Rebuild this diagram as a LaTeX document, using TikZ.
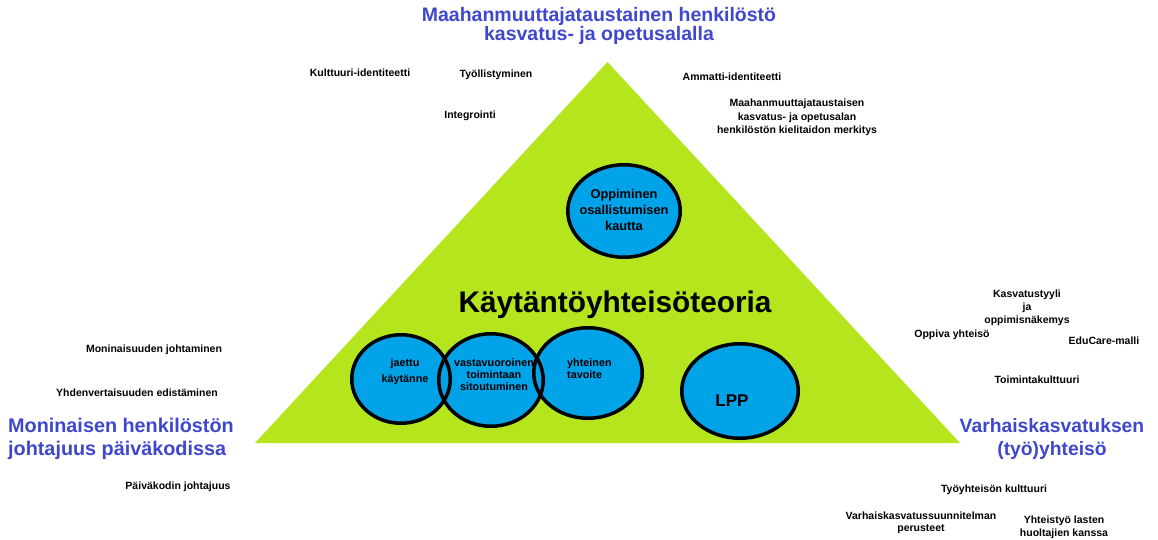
\documentclass[tikz,border=0pt]{standalone}
\usepackage{fontspec}
\setmainfont{Liberation Sans}
\usetikzlibrary{shapes.geometric}
\definecolor{leafgreen}{RGB}{181,230,29}
\definecolor{poolblue}{RGB}{0,162,232}
\definecolor{inkblue}{RGB}{63,72,204}

\begin{document}
\begin{tikzpicture}[x=1pt,y=-1pt,
  note/.style={font=\bfseries\fontsize{10.5}{13.5}\selectfont, align=center, inner sep=0pt, text=black},
  heading/.style={font=\bfseries\fontsize{19.5}{19}\selectfont, align=center, inner sep=0pt, text=inkblue},
  disc/.style={ellipse, fill=poolblue, inner sep=0pt, outer sep=0pt},
  ring/.style={ellipse, draw=black, line width=3.5pt, inner sep=0pt, outer sep=0pt},
  inner/.style={font=\bfseries\fontsize{10.8}{12}\selectfont, align=center, inner sep=0pt, text=black}]

% canvas
\useasboundingbox (0,0) rectangle (1158,539);
\fill[white] (0,0) rectangle (1158,539);

% the pyramid
\coordinate (apex) at (607.5,62);
\coordinate (baseL) at (255,443);
\coordinate (baseR) at (960,443);
\fill[leafgreen] (apex) -- (baseL) -- (baseR) -- cycle;

% blue discs first, outlines afterwards so every rim stays visible
\foreach \n/\x/\y/\w/\h in {oppi/624/211/112.5/92.5, jaettu/401/379/98.5/88.5,
    vasta/491/380/104.5/92.5, yhteinen/588/373/108.5/90.5, lpp/740/391/116.5/94.5}
  \node[disc, minimum width=\w pt, minimum height=\h pt] (\n) at (\x,\y) {};
\foreach \n/\w/\h in {oppi/112.5/92.5, jaettu/98.5/88.5, vasta/104.5/92.5,
    yhteinen/108.5/90.5, lpp/116.5/94.5}
  \node[ring, minimum width=\w pt, minimum height=\h pt] (\n-rim) at (\n) {};

% texts inside the pyramid
\node[inner, font=\bfseries\fontsize{12.8}{16.3}\selectfont] (oppiT) at (624,210)
  {Oppiminen\\osallistumisen\\kautta};
\node[inner sep=0pt, anchor=base, font=\bfseries\fontsize{29.8}{30}\selectfont] (theory) at (615,312)
  {Käytäntöyhteisöteoria};
\node[inner, font=\bfseries\fontsize{10.8}{16}\selectfont] (jaettuT) at (405,372) {jaettu\\käytänne};
\node[inner, font=\bfseries\fontsize{10.8}{11.7}\selectfont] (vastaT) at (494,374.5)
  {vastavuoroinen\\toimintaan\\sitoutuminen};
\node[inner, align=left, anchor=west] (yhteinenT) at (567,369) {yhteinen\\tavoite};
\node[inner sep=0pt, font=\bfseries\fontsize{17}{17}\selectfont] (lppT) at (732,401) {LPP};

% corner headings
\node[heading] (topHead) at (599,26) {Maahanmuuttajataustainen henkilöstö\\kasvatus- ja opetusalalla};
\node[heading, align=left, anchor=west, font=\bfseries\fontsize{19.8}{23}\selectfont] (leftHead) at (8,438.5)
  {Moninaisen henkilöstön\\johtajuus päiväkodissa};
\node[heading, font=\bfseries\fontsize{19.3}{23}\selectfont] (rightHead) at (1052,438.5)
  {Varhaiskasvatuksen\\(työ)yhteisö};

% keywords around the top corner
\node[note] (kult) at (360,73) {Kulttuuri-identiteetti};
\node[note] (tyoll) at (496,75) {Työllistyminen};
\node[note] (integ) at (470,116) {Integrointi};
\node[note] (ammatti) at (732,77) {Ammatti-identiteetti};
\node[note] (kieli) at (797,117.5)
  {Maahanmuuttajataustaisen\\kasvatus- ja opetusalan\\henkilöstön kielitaidon merkitys};

% keywords around the left corner
\node[note] (monijoht) at (154,350) {Moninaisuuden johtaminen};
\node[note] (yhdenv) at (137,393) {Yhdenvertaisuuden edistäminen};
\node[note] (pkjoht) at (178,487) {Päiväkodin johtajuus};

% keywords around the right corner
\node[note, font=\bfseries\fontsize{10.5}{13}\selectfont] (kasvtyyli) at (1027,308)
  {Kasvatustyyli\\ja\\oppimisnäkemys};
\node[note] (oppiva) at (952,335) {Oppiva yhteisö};
\node[note] (educare) at (1104,341) {EduCare-malli};
\node[note] (toimkult) at (1037,380) {Toimintakulttuuri};
\node[note] (tyokult) at (994,490) {Työyhteisön kulttuuri};
\node[note, font=\bfseries\fontsize{10.5}{12.5}\selectfont] (vasu) at (921,523)
  {Varhaiskasvatussuunnitelman\\perusteet};
\node[note, font=\bfseries\fontsize{10.5}{13}\selectfont] (huolt) at (1064,527.5)
  {Yhteistyö lasten\\huoltajien kanssa};
\end{tikzpicture}
\end{document}
